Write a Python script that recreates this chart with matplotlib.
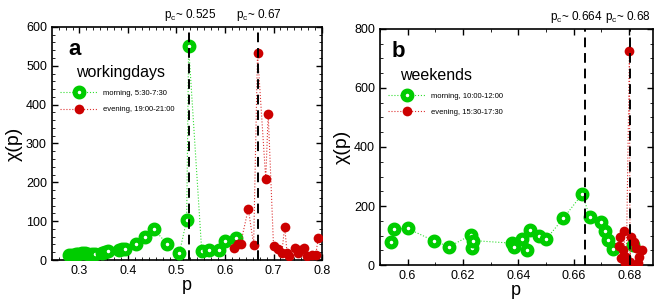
import matplotlib
matplotlib.use('Agg')
import matplotlib.pyplot as plt
from matplotlib.ticker import MultipleLocator

plt.rcParams['font.family'] = ['Liberation Sans', 'DejaVu Sans']
plt.rcParams['mathtext.default'] = 'regular'

# workingdays
wd_morning_p = [0.279, 0.285, 0.292, 0.298, 0.305, 0.312, 0.318, 0.325, 0.332, 0.347, 0.352,
                0.358, 0.381, 0.387, 0.393, 0.417, 0.436, 0.454, 0.480, 0.506, 0.521, 0.525,
                0.552, 0.567, 0.588, 0.599, 0.622]
wd_morning_chi = [12, 13, 15, 16, 17, 17, 16, 15, 15, 18, 21,
                  24, 27, 29, 29, 42, 58, 79, 42, 18, 103, 550,
                  24, 26, 27, 50, 57]
wd_evening_p = [0.619, 0.627, 0.632, 0.648, 0.659, 0.667, 0.684, 0.689, 0.700, 0.710, 0.717,
                0.723, 0.728, 0.732, 0.744, 0.750, 0.755, 0.763, 0.770, 0.780, 0.787, 0.792]
wd_evening_chi = [30, 41, 41, 132, 39, 533, 208, 377, 36, 29, 17,
                  86, 17, 10, 30, 17, 27, 30, 10, 13, 13, 56]

# weekends
we_morning_p = [0.5941, 0.5950, 0.6000, 0.6097, 0.6150, 0.6230, 0.6232, 0.6235, 0.6376, 0.6386,
                0.6412, 0.6432, 0.6442, 0.6476, 0.6500, 0.6562, 0.6631, 0.6658, 0.6698, 0.6712,
                0.6724, 0.6740, 0.6815]
we_morning_chi = [77, 121, 124, 81, 62, 102, 57, 83, 74, 60,
                  87, 51, 119, 98, 87, 158, 241, 162, 147, 115,
                  85, 53, 68]
we_evening_p = [0.6764, 0.6766, 0.6770, 0.6778, 0.6782, 0.6784, 0.6790, 0.6801, 0.6803,
                0.6808, 0.6818, 0.6826, 0.6832, 0.6836, 0.6848]
we_evening_chi = [64, 94, 23, 51, 115, 6, 28, 727, 11,
                  96, 79, 57, 6, 28, 51]

green = '#00cc00'
red = '#cc0000'

fig = plt.figure(figsize=(6.64, 3.02), dpi=100)
ax1 = fig.add_axes([0.078, 0.139, 0.407, 0.772])
ax2 = fig.add_axes([0.572, 0.1225, 0.411, 0.7815])


def draw_panel(ax, mp, mc, ep, ec, mlabel, elabel, title, letter, pcs, pc_labels, pc_shift,
               title_x, leg_x):
    ax.plot(mp, mc, ls=':', lw=0.8, color='#33dd33', marker='o', ms=6.3, mfc='white',
            mec=green, mew=3.7, label=mlabel, zorder=3)
    ax.plot(ep, ec, ls=':', lw=0.8, color='#dd3333', marker='o', ms=7, mfc=red,
            mew=0, label=elabel, zorder=3)
    for pc, lab, dx in zip(pcs, pc_labels, pc_shift):
        ax.axvline(pc, color='black', ls=(0, (5, 3)), lw=1.4, zorder=4)
        ax.annotate(lab, (pc, 1.015), xycoords=ax.get_xaxis_transform(),
                    xytext=(dx, 0), textcoords='offset points', ha='center',
                    va='bottom', fontsize=8.5)
    ax.text(title_x - 0.03, 0.95, letter, transform=ax.transAxes, fontsize=16,
            fontweight='bold', va='top', ha='left')
    ax.text(title_x, 0.835, title, transform=ax.transAxes, fontsize=11.5, va='top', ha='left')
    ax.legend(loc='upper left', bbox_to_anchor=(leg_x, 0.745), frameon=False, fontsize=5.5,
              handlelength=4.8, handletextpad=0.8, labelspacing=1.2, borderaxespad=0)
    ax.set_xlabel('p', fontsize=13, labelpad=0)
    ax.set_ylabel('χ(p)', fontsize=14, labelpad=2)
    ax.tick_params(which='both', direction='in', top=True, right=True, labelsize=9)
    ax.tick_params(which='major', length=4, width=1)
    ax.tick_params(which='minor', length=2, width=0.6)
    for s in ax.spines.values():
        s.set_linewidth(1.2)


draw_panel(ax1, wd_morning_p, wd_morning_chi, wd_evening_p, wd_evening_chi,
           'morning, 5:30-7:30', 'evening, 19:00-21:00', 'workingdays', 'a',
           [0.525, 0.667], ['p$_c$~ 0.525', 'p$_c$~ 0.67'], [1, 1], 0.09, 0.02)
ax1.set_xlim(0.243, 0.8)
ax1.set_ylim(0, 600)
ax1.xaxis.set_major_locator(MultipleLocator(0.1))
ax1.xaxis.set_minor_locator(MultipleLocator(0.1 / 7))
ax1.yaxis.set_major_locator(MultipleLocator(100))
ax1.yaxis.set_minor_locator(MultipleLocator(20))

draw_panel(ax2, we_morning_p, we_morning_chi, we_evening_p, we_evening_chi,
           'morning, 10:00-12:00', 'evening, 15:30-17:30', 'weekends', 'b',
           [0.664, 0.6802], ['p$_c$~ 0.664', 'p$_c$~ 0.68'], [-6.5, -1.5], 0.073, 0.02)
ax2.set_xlim(0.590, 0.6885)
ax2.set_ylim(0, 800)
ax2.xaxis.set_major_locator(MultipleLocator(0.02))
ax2.xaxis.set_minor_locator(MultipleLocator(0.01))
ax2.yaxis.set_major_locator(MultipleLocator(200))
ax2.yaxis.set_minor_locator(MultipleLocator(50))
ax2.set_xticks([0.6, 0.62, 0.64, 0.66, 0.68])
ax2.set_xticklabels(['0.6', '0.62', '0.64', '0.66', '0.68'])

fig.savefig('out.png', dpi=100)
